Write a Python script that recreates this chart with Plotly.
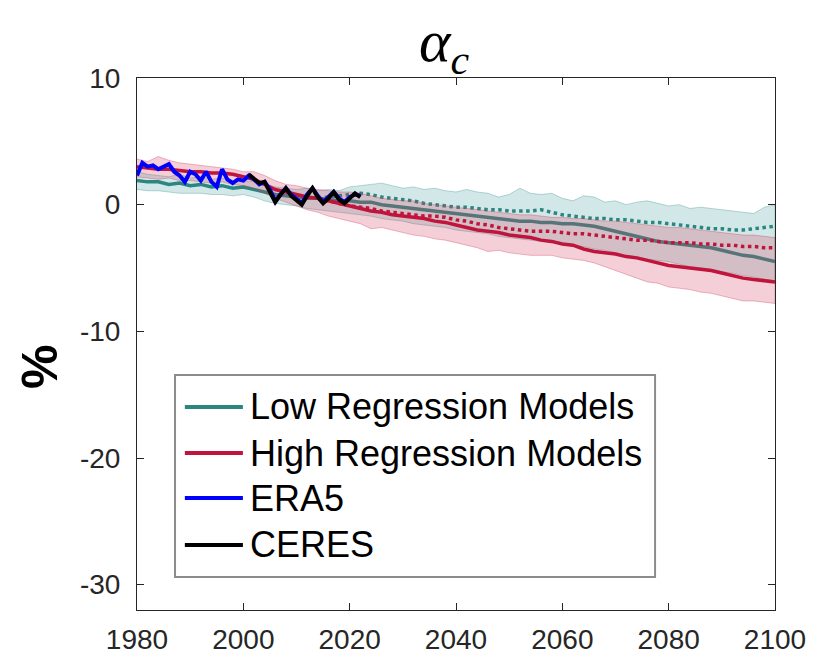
import plotly.graph_objects as go

# model years (2-year steps), observation years (annual)
model_years = list(range(1980, 2101, 2))
proj_years = list(range(2014, 2101, 2))
era5_years = list(range(1980, 2023))
ceres_years = list(range(2001, 2023))

low_solid = [1.9, 1.8, 1.8, 1.6, 1.7, 1.5, 1.6, 1.4, 1.5, 1.3, 1.4, 1.2, 1.0, 0.8, 0.7, 0.6, 0.5,
             0.5, 0.4, 0.3, 0.3, 0.2, 0.2, 0.0, -0.1, -0.2, -0.3, -0.4, -0.5, -0.6, -0.7, -0.8,
             -0.9, -1.0, -1.1, -1.2, -1.3, -1.3, -1.4, -1.4, -1.5, -1.5, -1.6, -1.7, -1.9, -2.1,
             -2.3, -2.5, -2.7, -2.9, -3.0, -3.1, -3.2, -3.3, -3.4, -3.6, -3.8, -4.0, -4.1, -4.3, -4.5]
low_dotted = [0.5, 0.6, 0.7, 0.8, 0.9, 0.8, 0.6, 0.5, 0.4, 0.3, 0.1, 0.0, -0.1, -0.2, -0.2,
              -0.3, -0.4, -0.4, -0.5, -0.5, -0.5, -0.4, -0.6, -0.8, -0.9, -1.0, -1.1, -1.1, -1.2,
              -1.2, -1.3, -1.4, -1.4, -1.5, -1.6, -1.7, -1.8, -1.9, -1.9, -2.0, -2.0, -1.9, -1.8, -1.7]
low_upper = [2.6, 2.4, 2.3, 2.2, 2.4, 2.1, 2.2, 2.0, 2.1, 1.9, 1.9, 1.8, 1.6, 1.4, 1.3, 1.2, 1.3,
             1.1, 1.2, 1.1, 1.4, 1.5, 1.6, 1.7, 1.5, 1.3, 1.4, 1.2, 1.3, 1.1, 1.0, 1.2, 1.0, 0.9,
             0.6, 0.8, 1.3, 0.9, 0.8, 0.9, 0.5, 0.3, 0.7, 0.6, 0.2, 0.3, 0.0, 0.2, 0.3, 0.1, -0.1,
             0.0, -0.3, -0.2, -0.3, -0.4, -0.5, -0.6, -0.7, -0.2, 0.0]
low_lower = [1.2, 1.1, 1.1, 1.0, 0.9, 0.9, 0.9, 0.8, 0.8, 0.7, 0.8, 0.6, 0.3, 0.1, 0.0, -0.1, -0.3,
             -0.4, -0.5, -0.6, -0.7, -0.8, -0.9, -1.1, -1.2, -1.3, -1.5, -1.6, -1.7, -1.8, -2.0,
             -2.1, -2.2, -2.3, -2.5, -2.6, -2.7, -2.8, -2.9, -3.0, -3.1, -3.2, -3.3, -3.5, -3.6,
             -3.8, -4.0, -4.1, -4.3, -4.4, -4.5, -4.7, -4.9, -5.0, -5.1, -5.3, -5.4, -5.6, -5.7,
             -5.9, -6.0]

high_solid = [3.0, 2.9, 2.8, 2.8, 2.7, 2.6, 2.6, 2.5, 2.5, 2.4, 2.2, 2.0, 1.6, 1.2, 1.0, 0.8, 0.6,
              0.5, 0.3, 0.1, -0.1, -0.3, -0.5, -0.6, -0.8, -0.9, -1.0, -1.1, -1.3, -1.4, -1.6,
              -1.8, -2.0, -2.1, -2.2, -2.4, -2.5, -2.6, -2.8, -2.9, -3.1, -3.2, -3.5, -3.7, -3.8,
              -3.9, -4.1, -4.2, -4.4, -4.6, -4.8, -4.9, -5.0, -5.1, -5.2, -5.4, -5.6, -5.8, -5.9,
              -6.0, -6.1]
high_dotted = [0.5, 0.3, 0.1, -0.1, -0.2, -0.3, -0.5, -0.6, -0.7, -0.8, -0.9, -0.9, -1.0, -1.2,
               -1.3, -1.5, -1.6, -1.8, -1.9, -2.0, -2.1, -2.1, -2.1, -2.2, -2.3, -2.3, -2.4, -2.5,
               -2.6, -2.7, -2.8, -2.8, -2.9, -3.0, -3.0, -3.0, -3.1, -3.1, -3.2, -3.2, -3.3, -3.3,
               -3.4, -3.4]
high_upper = [3.6, 3.4, 3.8, 3.5, 3.3, 3.2, 3.1, 3.0, 2.9, 2.8, 2.6, 2.6, 2.3, 1.9, 1.6, 1.5, 1.3,
              1.2, 1.1, 1.0, 1.0, 0.9, 0.7, 0.5, 0.4, 0.3, 0.3, 0.1, 0.0, -0.1, -0.2, -0.3, -0.4,
              -0.5, -0.6, -0.7, -0.8, -0.8, -0.9, -1.0, -1.0, -1.1, -1.1, -1.2, -1.3, -1.3, -1.4,
              -1.5, -1.6, -1.7, -1.8, -1.8, -1.9, -2.0, -2.1, -2.2, -2.3, -2.4, -2.4, -2.5, -2.6]
high_lower = [2.2, 2.1, 2.0, 2.1, 1.9, 1.9, 1.8, 1.7, 1.8, 1.6, 1.5, 1.3, 0.9, 0.5, 0.2, -0.1,
              -0.4, -0.6, -0.9, -1.1, -1.3, -1.5, -1.9, -1.8, -2.0, -2.2, -2.4, -2.5, -2.7, -2.8,
              -3.0, -3.2, -3.4, -3.7, -3.6, -3.8, -3.9, -4.0, -4.0, -4.0, -4.2, -4.3, -4.4, -4.6,
              -4.9, -5.2, -5.5, -5.8, -6.1, -6.2, -6.5, -6.6, -6.7, -6.9, -7.0, -7.2, -7.4, -7.6,
              -7.6, -7.7, -7.8]

era5 = [2.3, 3.3, 3.0, 3.1, 2.8, 3.0, 3.2, 2.6, 2.3, 1.8, 2.6, 2.4, 1.9, 2.6, 1.8, 1.4, 2.8,
        2.0, 1.7, 2.0, 1.9, 2.3, 2.0, 1.6, 1.8, 1.2, 0.3, 0.8, 1.3, 0.8, 0.4, 0.1, 0.8, 1.3, 0.7,
        0.2, 0.6, 1.0, 0.5, 0.2, 0.6, 0.8, 0.7]
ceres = [2.4, 2.0, 1.7, 1.8, 1.0, 0.2, 0.8, 1.3, 0.7, 0.3, 0.0, 0.7, 1.3, 0.6, 0.1, 0.5, 1.0,
         0.4, 0.1, 0.5, 0.9, 0.6]

x_ticks = [1980, 2000, 2020, 2040, 2060, 2080, 2100]
y_ticks = [10, 0, -10, -20, -30]
y_ticktext = ["10", "0", "-10", "-20", "-30"]

legend_labels = ["Low Regression Models", "High Regression Models", "ERA5", "CERES"]
TEAL = "#2b8580"
CRIMSON = "#c0143c"
legend_colors = [TEAL, CRIMSON, "#0000ff", "#000000"]

fig = go.Figure()


def band(upper, lower, fill, edge):
    fig.add_trace(go.Scatter(x=model_years + model_years[::-1], y=upper + lower[::-1],
                             fill="toself", fillcolor=fill, mode="lines",
                             line=dict(color=edge, width=1), hoverinfo="skip", showlegend=False))


band(low_upper, low_lower, "rgba(90,170,170,0.27)", "rgba(60,140,140,0.35)")
fig.add_trace(go.Scatter(x=model_years, y=low_solid, mode="lines",
                         line=dict(color=TEAL, width=3.5), showlegend=False))
fig.add_trace(go.Scatter(x=proj_years, y=low_dotted, mode="lines",
                         line=dict(color=TEAL, width=3.5, dash="dot"), showlegend=False))
band(high_upper, high_lower, "rgba(215,70,100,0.26)", "rgba(200,60,90,0.35)")
fig.add_trace(go.Scatter(x=model_years, y=high_solid, mode="lines",
                         line=dict(color=CRIMSON, width=3.5), showlegend=False))
fig.add_trace(go.Scatter(x=proj_years, y=high_dotted, mode="lines",
                         line=dict(color=CRIMSON, width=3.5, dash="dot"), showlegend=False))
fig.add_trace(go.Scatter(x=era5_years, y=era5, mode="lines",
                         line=dict(color="#0000ff", width=4), showlegend=False))
fig.add_trace(go.Scatter(x=ceres_years, y=ceres, mode="lines",
                         line=dict(color="#000000", width=4), showlegend=False))

# hand-made legend box, like the matlab one
fig.add_shape(type="rect", xref="paper", yref="paper", x0=0.0596, x1=0.812, y0=0.062, y1=0.4417,
              fillcolor="white", line=dict(color="#8c8c8c", width=2), layer="above")
rows = [0.3816, 0.2951, 0.2105, 0.1222]
for lab, col, yy in zip(legend_labels, legend_colors, rows):
    fig.add_shape(type="line", xref="paper", yref="paper", x0=0.075, x1=0.166, y0=yy, y1=yy,
                  line=dict(color=col, width=4), layer="above")
    fig.add_annotation(x=0.174, y=yy, xref="paper", yref="paper", text=lab, showarrow=False,
                       xanchor="left", yanchor="middle",
                       font=dict(family="Liberation Sans, Arial", size=36, color="black"))

fig.add_annotation(x=-0.152, y=0.457, xref="paper", yref="paper", text="<b>%</b>",
                   showarrow=False, textangle=-90, xanchor="center", yanchor="middle",
                   font=dict(family="Liberation Sans, Arial", size=50, color="black"))

axis_common = dict(showline=True, linecolor="#262626", linewidth=1, mirror="ticks",
                   ticks="inside", ticklen=7, tickcolor="#262626", showgrid=False, zeroline=False,
                   automargin=False, ticklabeloverflow="allow",
                   tickfont=dict(family="Liberation Sans, Arial", size=28, color="#262626"))
fig.update_layout(
    width=813, height=659,
    margin=dict(l=137, r=38, t=78, b=49),
    plot_bgcolor="white", paper_bgcolor="white",
    title=dict(text="<i>α<sub>c</sub></i>", x=444 / 813, xref="container", y=1 - 40 / 659,
               yanchor="middle", xanchor="center",
               font=dict(family="Liberation Serif", size=60, color="black")),
    xaxis=dict(range=[1980, 2100], tickmode="array", tickvals=x_ticks, ticklabelstandoff=4,
               **axis_common),
    yaxis=dict(range=[-32, 10], tickmode="array", tickvals=y_ticks, ticktext=y_ticktext,
               ticklabelstandoff=10, **axis_common),
)
# drop the default 8px body margin so the figure fills the window exactly
fig.write_html("out.html", config={"displayModeBar": False},
               post_script="document.body.style.margin='0';document.body.style.overflow='hidden';")
